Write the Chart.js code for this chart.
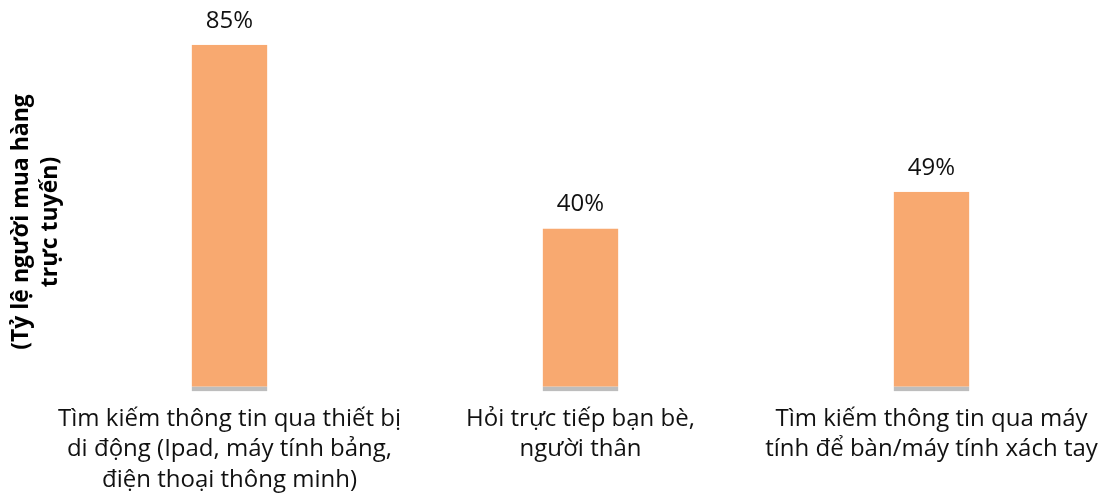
<!DOCTYPE html>
<html>
<head>
    <title>Tỷ lệ người mua hàng trực tuyến</title>
    <script src="https://cdn.jsdelivr.net/npm/chart.js"></script>
    <style>
        html, body { margin: 0; padding: 0; background: #fff; }
        .wrap { width: 1107px; height: 499px; }
    </style>
</head>
<body>
    <div class="wrap">
        <canvas id="chart" width="1107" height="499"></canvas>
    </div>

    <script>
        const categories = [
            ['Tìm kiếm thông tin qua thiết bị', 'di động (Ipad, máy tính bảng,', 'điện thoại thông minh)'],
            ['Hỏi trực tiếp bạn bè,', 'người thân'],
            ['Tìm kiếm thông tin qua máy', 'tính để bàn/máy tính xách tay']
        ];
        const shares = [85, 40, 49];
        const yTitle = ['(Tỷ lệ người mua hàng', 'trực tuyến)'];

        const FONT = '"Open Sans", "Noto Sans", sans-serif';

        // value labels above bars + rotated axis title on the left
        const extras = {
            id: 'extras',
            afterDatasetsDraw(chart) {
                const ctx = chart.ctx;
                const meta = chart.getDatasetMeta(0);
                ctx.save();
                ctx.fillStyle = '#111';
                ctx.font = '24px ' + FONT;
                ctx.textAlign = 'center';
                ctx.textBaseline = 'alphabetic';
                meta.data.forEach((bar, i) => {
                    ctx.fillText(shares[i] + '%', bar.x, bar.y - 17);
                });
                ctx.restore();

                ctx.save();
                ctx.fillStyle = '#000';
                ctx.font = 'bold 23px ' + FONT;
                ctx.textAlign = 'center';
                ctx.textBaseline = 'middle';
                ctx.translate(0, 222);
                ctx.rotate(-Math.PI / 2);
                yTitle.forEach((line, i) => ctx.fillText(line, 0, 21 + i * 29));
                ctx.restore();
            }
        };

        new Chart(document.getElementById('chart'), {
            type: 'bar',
            data: {
                labels: categories,
                datasets: [{
                    data: shares,
                    backgroundColor: '#F8A970',
                    borderColor: '#BDBDBD',
                    borderWidth: { top: 0, left: 0, right: 0, bottom: 5 },
                    borderSkipped: false,
                    categoryPercentage: 1,
                    barPercentage: 0.216
                }]
            },
            options: {
                responsive: false,
                animation: false,
                layout: { padding: { left: 54, right: 0, top: 0, bottom: 0 } },
                plugins: {
                    legend: { display: false },
                    tooltip: { enabled: false }
                },
                scales: {
                    x: {
                        grid: { display: false },
                        border: { display: false },
                        ticks: {
                            color: '#111',
                            font: { family: FONT, size: 24, lineHeight: 1.27 },
                            maxRotation: 0,
                            autoSkip: false,
                            padding: 4
                        }
                    },
                    y: {
                        display: false,
                        min: 0,
                        max: 96
                    }
                }
            },
            plugins: [extras]
        });
    </script>
</body>
</html>
